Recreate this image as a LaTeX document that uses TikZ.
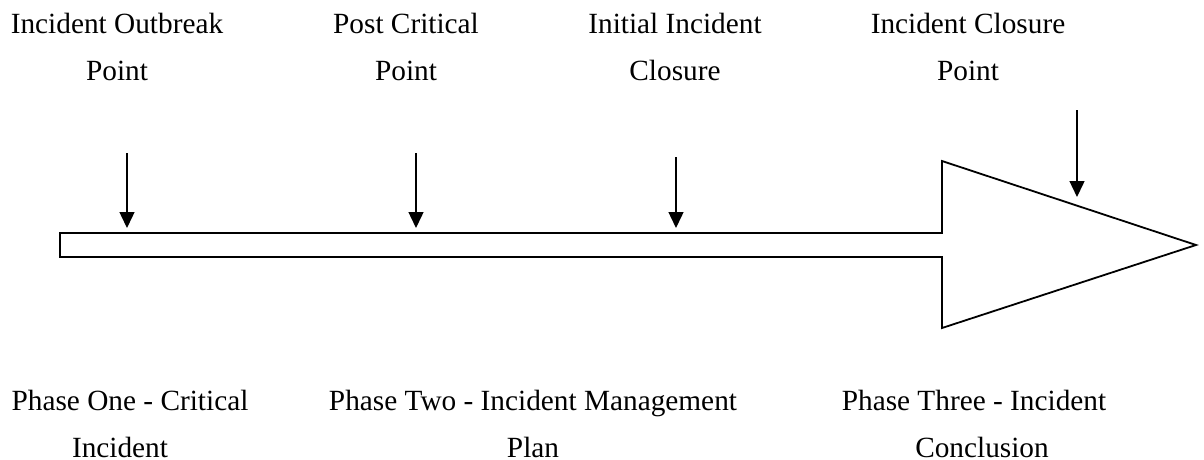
\documentclass[tikz,border=0pt]{standalone}
\usepackage{fontspec}
\setmainfont{Liberation Serif}
\usetikzlibrary{arrows.meta}
\tikzset{
  lbl/.style={anchor=base, inner sep=0pt, align=center, font=\fontsize{29.3}{46.5}\selectfont},
  marker/.style={line width=1.4pt, -{Triangle[length=16pt,width=15pt]}},
  outline/.style={line width=1.8pt, line join=miter}
}
\begin{document}
\begin{tikzpicture}[x=1pt,y=-1pt]
\useasboundingbox (0,0) rectangle (1204,459);
% big arrow
\draw[outline] (60,233) -- (942,233) -- (942,161) -- (1196,245) -- (942,328) -- (942,257) -- (60,257) -- cycle;
% marker coordinates
\coordinate (s1) at (127,153); \coordinate (e1) at (127,228);
\coordinate (s2) at (416,153); \coordinate (e2) at (416,228);
\coordinate (s3) at (676,157); \coordinate (e3) at (676,228);
\coordinate (s4) at (1077,110); \coordinate (e4) at (1077,197);
\draw[marker] (s1) -- (e1);
\draw[marker] (s2) -- (e2);
\draw[marker] (s3) -- (e3);
\draw[marker] (s4) -- (e4);
% top labels (anchor = baseline of last line)
\node[lbl] (t1) at (117,80) {Incident Outbreak\\Point};
\node[lbl] (t2) at (406,80) {Post Critical\\Point};
\node[lbl] (t3) at (675,80) {Initial Incident\\Closure};
\node[lbl] (t4) at (968,80) {Incident Closure\\Point};
% bottom labels
\node[lbl] (b1) at (130,457) {Phase One - Critical\\Incident\hspace*{20pt}};
\node[lbl] (b2) at (533,457) {Phase Two - Incident Management\\Plan};
\node[lbl] (b3) at (974,457) {Phase Three - Incident\\\hspace*{16pt}Conclusion};
\end{tikzpicture}
\end{document}
